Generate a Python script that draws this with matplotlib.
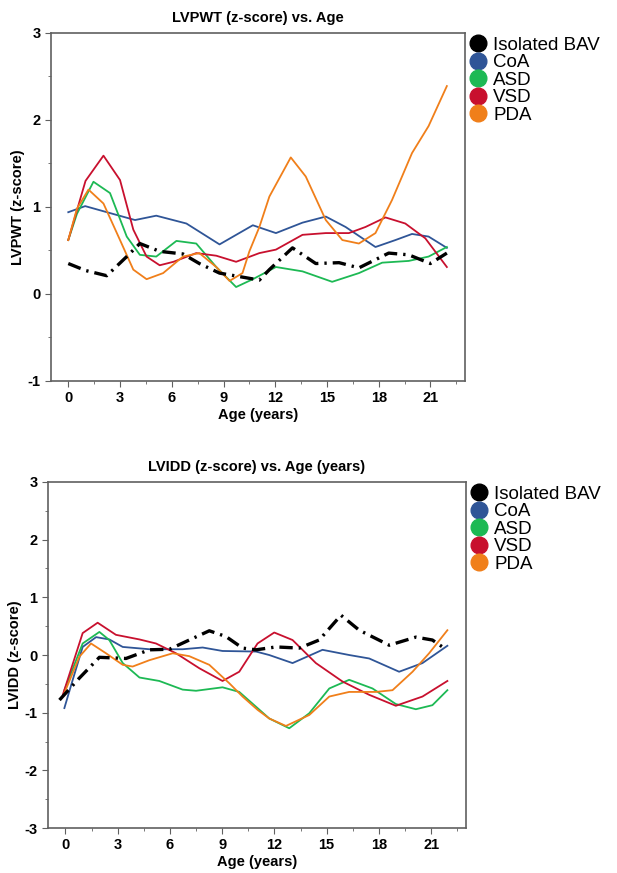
import matplotlib.pyplot as plt
from matplotlib.lines import Line2D
from matplotlib.ticker import MultipleLocator

plt.rcParams['font.family'] = ['Liberation Sans', 'DejaVu Sans']
plt.rcParams['axes.unicode_minus'] = False

groups = ['Isolated BAV', 'CoA', 'ASD', 'VSD', 'PDA']
colors = ['black', '#2F5597', '#1DB954', '#C8102E', '#F07F1A']

# LVPWT (top panel)
bav_x = [0, 1.0, 2.23, 3.39, 4.15, 5.3, 6.65, 7.6, 8.77, 9.92, 11.08, 11.66, 13.0, 14.35, 15.7, 16.85, 18.58, 19.74, 20.99, 21.95]
bav_y = [0.35, 0.27, 0.21, 0.43, 0.58, 0.49, 0.46, 0.35, 0.24, 0.20, 0.16, 0.28, 0.53, 0.35, 0.36, 0.30, 0.47, 0.45, 0.35, 0.47]
coa_x = [0, 0.98, 2.42, 3.87, 5.1, 6.85, 8.77, 10.7, 12.04, 13.58, 14.93, 16.08, 17.81, 18.97, 19.93, 20.89, 21.95]
coa_y = [0.94, 1.01, 0.93, 0.85, 0.90, 0.81, 0.57, 0.79, 0.70, 0.82, 0.89, 0.77, 0.54, 0.62, 0.69, 0.66, 0.53]
asd_x = [0, 0.5, 1.46, 2.42, 3.39, 4.15, 5.1, 6.27, 7.42, 8.58, 9.73, 10.7, 12.04, 13.58, 15.3, 16.85, 18.2, 19.74, 20.89, 21.95]
asd_y = [0.62, 0.92, 1.29, 1.16, 0.66, 0.45, 0.43, 0.61, 0.58, 0.31, 0.08, 0.17, 0.31, 0.26, 0.14, 0.24, 0.36, 0.38, 0.43, 0.54]
vsd_x = [0, 1.0, 2.04, 3.0, 3.77, 4.54, 5.3, 6.1, 7.42, 8.58, 9.73, 11.08, 12.04, 13.58, 14.93, 16.27, 17.23, 18.39, 19.54, 20.7, 21.95]
vsd_y = [0.62, 1.30, 1.59, 1.31, 0.74, 0.43, 0.33, 0.37, 0.47, 0.44, 0.37, 0.47, 0.51, 0.68, 0.70, 0.70, 0.77, 0.88, 0.81, 0.64, 0.31]
pda_x = [0, 0.5, 1.17, 2.04, 3.0, 3.77, 4.54, 5.5, 6.65, 7.6, 8.58, 9.35, 10.1, 10.5, 11.08, 11.66, 12.9, 13.77, 14.93,
         15.89, 16.85, 17.81, 18.77, 19.93, 20.89, 21.95]
pda_y = [0.62, 0.98, 1.20, 1.04, 0.62, 0.28, 0.17, 0.24, 0.43, 0.47, 0.31, 0.15, 0.24, 0.49, 0.77, 1.12, 1.57, 1.35, 0.85,
         0.62, 0.58, 0.70, 1.08, 1.62, 1.93, 2.39]

# LVIDD (bottom panel)
bav2_x = [-0.34, 0.80, 1.95, 3.48, 4.82, 5.97, 7.11, 8.26, 9.22, 10.17, 10.94, 12.09, 13.43, 14.57, 15.82, 16.87, 18.59, 20.12, 21.07, 21.84]
bav2_y = [-0.78, -0.40, -0.04, -0.06, 0.09, 0.10, 0.26, 0.42, 0.32, 0.12, 0.09, 0.14, 0.12, 0.26, 0.69, 0.43, 0.17, 0.31, 0.26, 0.10]
coa2_x = [-0.06, 0.4, 0.99, 1.76, 2.52, 3.29, 4.82, 6.73, 7.88, 9.02, 10.94, 11.7, 13.04, 14.76, 16.29, 17.44, 19.16, 20.5, 21.93]
coa2_y = [-0.92, -0.45, 0.14, 0.31, 0.27, 0.14, 0.10, 0.10, 0.13, 0.07, 0.06, 0.0, -0.14, 0.09, 0.0, -0.06, -0.29, -0.14, 0.16]
asd2_x = [-0.06, 0.99, 1.95, 2.52, 3.29, 4.25, 5.39, 6.73, 7.5, 9.02, 9.98, 11.03, 11.7, 12.85, 14.0, 15.15, 16.29, 17.63,
          18.97, 20.12, 21.07, 21.93]
asd2_y = [-0.61, 0.20, 0.40, 0.26, -0.14, -0.39, -0.45, -0.60, -0.62, -0.56, -0.64, -0.92, -1.10, -1.27, -1.01, -0.58, -0.43, -0.58,
          -0.85, -0.94, -0.87, -0.61]
vsd2_x = [-0.15, 0.99, 1.85, 2.9, 4.25, 5.2, 6.35, 7.69, 9.02, 9.98, 11.03, 11.99, 13.04, 14.38, 15.91, 17.44, 18.97, 20.5, 21.93]
vsd2_y = [-0.69, 0.38, 0.56, 0.35, 0.27, 0.20, 0.03, -0.23, -0.45, -0.29, 0.20, 0.39, 0.26, -0.14, -0.46, -0.69, -0.88, -0.72, -0.45]
pda2_x = [-0.06, 0.8, 1.47, 2.33, 3.29, 3.86, 4.82, 6.16, 7.11, 8.26, 9.41, 10.17, 11.03, 11.7, 12.66, 14.0, 15.15, 16.29,
          17.82, 18.78, 19.93, 20.88, 21.93]
pda2_y = [-0.66, -0.03, 0.20, 0.03, -0.17, -0.20, -0.09, 0.03, -0.02, -0.17, -0.49, -0.72, -0.95, -1.10, -1.23, -1.04, -0.72, -0.64,
          -0.64, -0.61, -0.29, 0.03, 0.43]

top = [(bav_x, bav_y), (coa_x, coa_y), (asd_x, asd_y), (vsd_x, vsd_y), (pda_x, pda_y)]
bottom = [(bav2_x, bav2_y), (coa2_x, coa2_y), (asd2_x, asd2_y), (vsd2_x, vsd2_y), (pda2_x, pda2_y)]

fig = plt.figure(figsize=(6.17, 8.73), dpi=100)
ax1 = fig.add_axes([0.0827, 0.5636, 0.6709, 0.3986])
ax2 = fig.add_axes([0.0778, 0.0515, 0.6775, 0.3964])


def draw(ax, series, title, ylabel, ylim):
    for i, (x, y) in enumerate(series):
        if i == 0:
            ax.plot(x, y, color='black', lw=2.4, ls=(0, (4, 1.8, 0.7, 1.8)), zorder=3)
        else:
            ax.plot(x, y, color=colors[i], lw=1.3, zorder=2)
    ax.set_xlim(-1, 23)
    ax.set_ylim(*ylim)
    ax.xaxis.set_major_locator(MultipleLocator(3))
    ax.xaxis.set_minor_locator(MultipleLocator(1.5))
    ax.yaxis.set_major_locator(MultipleLocator(1))
    ax.yaxis.set_minor_locator(MultipleLocator(0.5))
    for s in ax.spines.values():
        s.set_color('#606060')
        s.set_linewidth(1.2)
    ax.tick_params(which='both', direction='out', color='#606060')
    ax.tick_params(which='major', length=4, labelsize=10.5)
    ax.tick_params(which='minor', length=2.5)
    for lab in ax.get_xticklabels() + ax.get_yticklabels():
        lab.set_fontweight('bold')
    ax.set_title(title, fontsize=10.5, fontweight='bold', pad=8)
    ax.set_xlabel('Age (years)', fontsize=10.5, fontweight='bold', labelpad=2)
    ax.set_ylabel(ylabel, fontsize=10.5, fontweight='bold', labelpad=2)
    handles = [Line2D([], [], ls='none', marker='o', markersize=12, color=c) for c in colors]
    ax.legend(handles, groups, loc='upper left', bbox_to_anchor=(1.0, 1.0), frameon=False,
              fontsize=13.5, handletextpad=0.3, labelspacing=0.02, handlelength=1.0,
              borderaxespad=0.1, borderpad=0.1)


draw(ax1, top, 'LVPWT (z-score) vs. Age', 'LVPWT (z-score)', (-1, 3))
draw(ax2, bottom, 'LVIDD (z-score) vs. Age (years)', 'LVIDD (z-score)', (-3, 3))

plt.savefig('out.png', dpi=100)
